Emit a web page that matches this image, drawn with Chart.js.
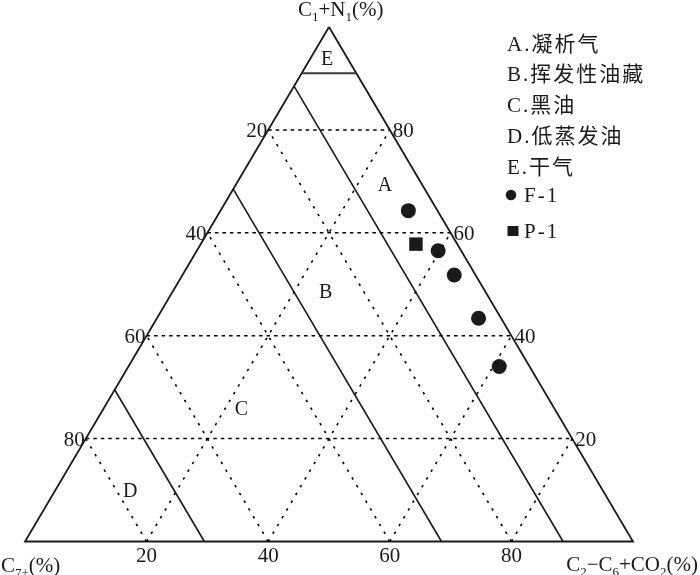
<!DOCTYPE html>
<html lang="zh">
<head>
  <meta charset="UTF-8">
  <title>三元组分图</title>
  <script src="https://cdn.jsdelivr.net/npm/chart.js"></script>
  <style>
    body {
      margin: 0;
      background: #fff;
    }
    canvas {
      display: block;
    }
  </style>
</head>
<body>
  <canvas id="ternary" width="700" height="575"></canvas>

  <script>
    // ternary components (%): C1+N1 (top), C2-C6+CO2 (bottom right), C7+ = the rest
    const gridLevels = [20, 40, 60, 80];
    const zoneE_C1 = 91;                    // dry gas cap
    const zoneBounds_C7 = [11.5, 31.5, 70.5];

    const zoneNames = ['A', 'B', 'C', 'D', 'E'];
    const zoneC1 = [69.4, 48.7, 26.0, 10.0, 94.0];
    const zoneC26 = [24.5, 25.1, 22.6, 12.3, 2.7];

    const legendText = ['A.凝析气', 'B.挥发性油藏', 'C.黑油', 'D.低蒸发油', 'E.干气'];
    const seriesNames = ['F-1', 'P-1'];

    const f1C1 = [64.3, 56.5, 51.8, 43.4, 34.0];
    const f1C26 = [30.9, 39.7, 44.7, 52.9, 61.0];
    const p1C1 = [57.8];
    const p1C26 = [35.4];

    const titleTop = [['C', 0], ['1', 1], ['+N', 0], ['1', 1], ['(%)', 0]];
    const titleLeft = [['C', 0], ['7+', 1], ['(%)', 0]];
    const titleRight = [['C', 0], ['2', 1], ['\u2212C', 0], ['6', 1], ['+CO', 0], ['2', 1], ['(%)', 0]];

    const serif = "'Liberation Serif', 'Noto Sans CJK SC'";
    const ink = '#1a1a1a';

    // ternary -> cartesian (x along base, y = height %)
    function toXY(c1, c26) {
      return { x: c26 + c1 / 2, y: c1 };
    }

    function lineSet(points, dash, width, color) {
      return {
        type: 'scatter',
        data: points,
        showLine: true,
        borderColor: color || ink,
        borderWidth: width,
        borderDash: dash || [],
        pointRadius: 0,
        fill: false,
        clip: false
      };
    }

    const datasets = [];

    // dotted grid
    gridLevels.forEach(v => {
      datasets.push(lineSet([toXY(v, 0), toXY(v, 100 - v)], [3.5, 4], 1.5, '#000'));
      datasets.push(lineSet([toXY(0, v), toXY(100 - v, v)], [2.5, 6.5], 1.6, '#000'));
      datasets.push(lineSet([toXY(0, 100 - v), toXY(100 - v, 0)], [2.5, 6.5], 1.6, '#000'));
    });

    // zone boundaries
    datasets.push(lineSet([toXY(zoneE_C1, 0), toXY(zoneE_C1, 100 - zoneE_C1)], [], 2, '#3a3a3a'));
    zoneBounds_C7.forEach(v => {
      datasets.push(lineSet([toXY(100 - v, 0), toXY(0, 100 - v)], [], 1.6));
    });

    // triangle frame
    datasets.push(lineSet([toXY(100, 0), toXY(0, 0), toXY(0, 100), toXY(100, 0)], [], 1.8));

    // samples
    datasets.push({
      type: 'scatter',
      label: seriesNames[0],
      data: f1C1.map((c1, i) => toXY(c1, f1C26[i])),
      pointStyle: 'circle',
      pointRadius: 7.5,
      backgroundColor: ink,
      borderColor: ink,
      borderWidth: 0,
      clip: false
    });
    datasets.push({
      type: 'scatter',
      label: seriesNames[1],
      data: p1C1.map((c1, i) => toXY(c1, p1C26[i])),
      pointStyle: 'rect',
      pointRadius: 9.5,
      backgroundColor: ink,
      borderColor: ink,
      borderWidth: 0,
      clip: false
    });

    function drawRich(ctx, parts, x, y, align, size) {
      const main = size + 'px ' + serif;
      const sub = Math.round(size * 0.62) + 'px ' + serif;
      let w = 0;
      parts.forEach(p => {
        ctx.font = p[1] ? sub : main;
        w += ctx.measureText(p[0]).width;
      });
      let cx = align === 'right' ? x - w : align === 'center' ? x - w / 2 : x;
      ctx.textAlign = 'left';
      ctx.textBaseline = 'alphabetic';
      parts.forEach(p => {
        ctx.font = p[1] ? sub : main;
        ctx.fillText(p[0], cx, p[1] ? y + size * 0.22 : y);
        cx += ctx.measureText(p[0]).width;
      });
    }

    const textPlugin = {
      id: 'ternaryText',
      afterDatasetsDraw(chart) {
        const ctx = chart.ctx;
        const sx = chart.scales.x, sy = chart.scales.y;
        const px = (c1, c26) => {
          const p = toXY(c1, c26);
          return [sx.getPixelForValue(p.x), sy.getPixelForValue(p.y)];
        };
        ctx.save();
        ctx.fillStyle = ink;
        ctx.textBaseline = 'alphabetic';
        ctx.font = '21px ' + serif;

        // tick labels
        gridLevels.forEach(v => {
          // left side: C7+
          let [x, y] = px(100 - v, 0);
          ctx.textAlign = 'right';
          ctx.fillText(String(v), x - 1, y + 7);
          // right side: C1+N1
          [x, y] = px(v, 100 - v);
          ctx.textAlign = 'left';
          ctx.fillText(String(v), x + 3, y + 7);
          // bottom: C2-C6+CO2
          [x, y] = px(0, v);
          ctx.textAlign = 'center';
          ctx.fillText(String(v), x, y + 20);
        });

        // zone letters
        ctx.font = '20px ' + serif;
        ctx.textAlign = 'center';
        zoneNames.forEach((n, i) => {
          const [x, y] = px(zoneC1[i], zoneC26[i]);
          ctx.fillText(n, x, y + 7);
        });

        // axis titles
        drawRich(ctx, titleTop, 298, 16, 'left', 21);
        drawRich(ctx, titleLeft, 1, 572, 'left', 21);
        drawRich(ctx, titleRight, 698, 571, 'right', 21);

        // legend
        ctx.font = '21px ' + serif;
        ctx.textAlign = 'left';
        ctx.letterSpacing = '2px';
        legendText.forEach((t, i) => {
          ctx.fillText(t, 507, 50.5 + i * 30.8);
        });
        ctx.beginPath();
        ctx.arc(511, 195, 5.3, 0, Math.PI * 2);
        ctx.fill();
        ctx.fillRect(507.5, 226, 11, 10);
        ctx.fillText(seriesNames[0], 524, 202);
        ctx.fillText(seriesNames[1], 524, 238);
        ctx.restore();
      }
    };

    new Chart(document.getElementById('ternary'), {
      type: 'scatter',
      data: { datasets },
      options: {
        responsive: false,
        animation: false,
        layout: { padding: { left: 25, right: 67, top: 27, bottom: 33.5 } },
        scales: {
          x: { type: 'linear', min: 0, max: 100, display: false },
          y: { type: 'linear', min: 0, max: 100, display: false }
        },
        plugins: {
          legend: { display: false },
          tooltip: { enabled: false }
        }
      },
      plugins: [textPlugin]
    });
  </script>
</body>
</html>
